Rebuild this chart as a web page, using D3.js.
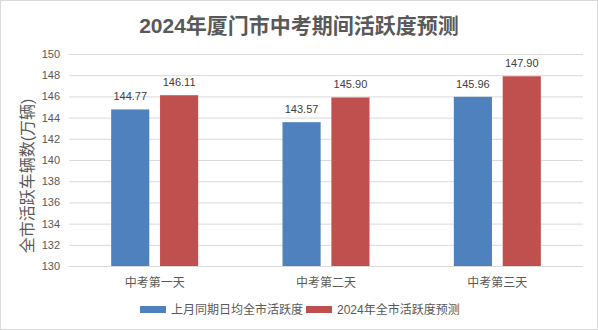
<!DOCTYPE html>
<html><head><meta charset="utf-8">
<script src="https://cdn.jsdelivr.net/npm/d3@7"></script>
<style>body{margin:0;background:#fff}svg{display:block}text{font-family:"Liberation Sans","Noto Sans CJK SC",sans-serif}</style>
</head><body><svg id="c" width="598" height="330"></svg>
<script>
const categories = ["中考第一天","中考第二天","中考第三天"];
const seriesNames = ["上月同期日均全市活跃度","2024年全市活跃度预测"];
const lastMonth = [144.77,143.57,145.96];
const forecast2024 = [146.11,145.90,147.90];
const yTicks = [130,132,134,136,138,140,142,144,146,148,150];
const colors = ["#4e81bd","#c0504d"];

const svg = d3.select("#c");
svg.append("rect").attr("x",0.5).attr("y",0.5).attr("width",597).attr("height",329).attr("fill","#fff").attr("stroke","#d9d9d9");
const m = {l:69,r:583,t:54,b:266};
const x = d3.scaleBand().domain(categories).range([m.l,m.r]).paddingInner(0).paddingOuter(0);
const y = d3.scaleLinear().domain([130,150]).range([m.b,m.t]);
const x1 = d3.scaleBand().domain([0,1]).range([0,87]).paddingInner(0.22);

svg.append("g").selectAll("line").data(yTicks).join("line")
 .attr("x1",m.l).attr("x2",m.r).attr("y1",d=>y(d)+0.5).attr("y2",d=>y(d)+0.5)
 .attr("stroke","#d9d9d9").attr("stroke-width",1);
svg.append("g").selectAll("text").data(yTicks).join("text")
 .attr("x",m.l-9).attr("y",d=>y(d)+4).attr("text-anchor","end").attr("font-size",11).attr("fill","#595959").text(d=>d);

const data = [lastMonth, forecast2024];
data.forEach((vals,si)=>{
  const g = svg.append("g");
  g.selectAll("rect").data(vals).join("rect")
   .attr("x",(d,i)=>x(categories[i])+(x.bandwidth()-87)/2+x1(si))
   .attr("width",x1.bandwidth())
   .attr("y",d=>y(d)).attr("height",d=>y(130)-y(d)).attr("fill",colors[si]);
  g.selectAll("text").data(vals).join("text")
   .attr("x",(d,i)=>x(categories[i])+(x.bandwidth()-87)/2+x1(si)+x1.bandwidth()/2)
   .attr("y",d=>y(d)-9).attr("text-anchor","middle").attr("font-size",11).attr("fill","#404040")
   .text(d=>d.toFixed(2));
});

svg.append("g").selectAll("text").data(categories).join("text")
 .attr("x",d=>x(d)+x.bandwidth()/2).attr("y",287).attr("text-anchor","middle").attr("font-size",12).attr("fill","#595959").text(d=>d);

svg.append("text").attr("x",299).attr("y",33).attr("text-anchor","middle").attr("font-size",21).attr("font-weight","bold").attr("fill","#595959").text("2024年厦门市中考期间活跃度预测");

svg.append("text").attr("transform","translate(33,176) rotate(-90)").attr("text-anchor","middle").attr("font-size",16).attr("fill","#595959").text("全市活跃车辆数(万辆)");

const lg = svg.append("g");
const lx = [140,306];
seriesNames.forEach((n,i)=>{
  lg.append("rect").attr("x",lx[i]).attr("y",306).attr("width",26).attr("height",7).attr("fill",colors[i]);
  lg.append("text").attr("x",lx[i]+31).attr("y",314).attr("font-size",12).attr("fill","#595959").text(n);
});
</script></body></html>
